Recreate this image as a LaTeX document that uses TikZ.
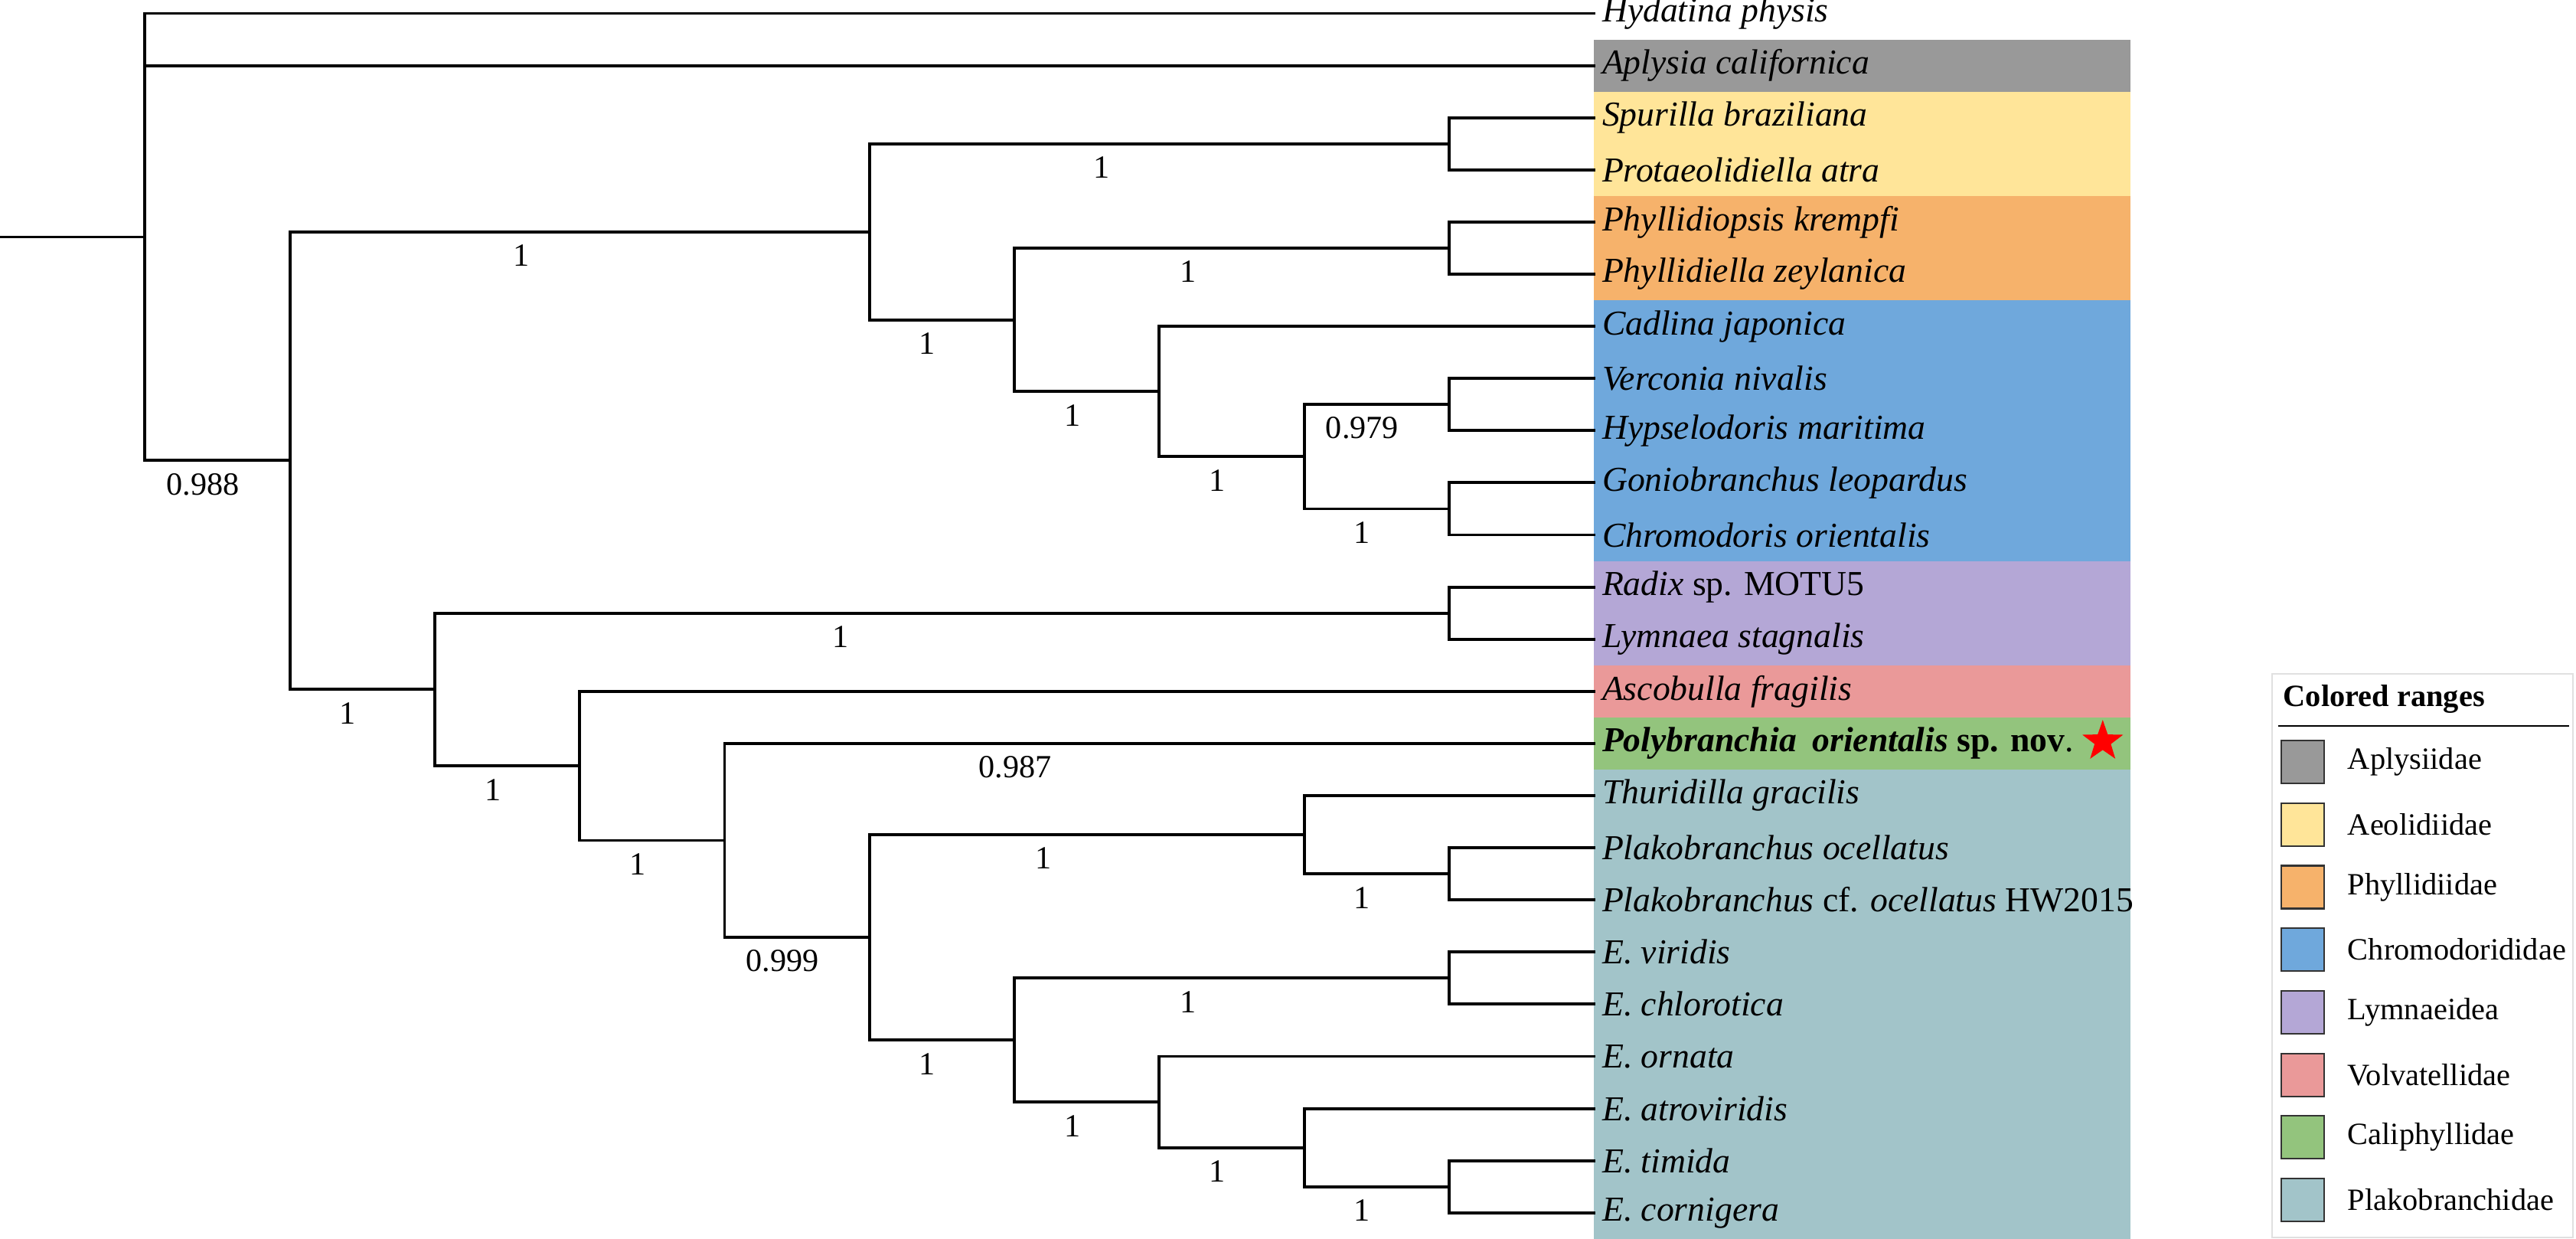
\documentclass[tikz,border=0pt]{standalone}
\usepackage{fontspec}
\setmainfont{Liberation Serif}
\usepackage{tikz}
\usetikzlibrary{shapes.geometric}
\definecolor{aply}{HTML}{999999}
\definecolor{aeol}{HTML}{FFE599}
\definecolor{phyl}{HTML}{F6B26B}
\definecolor{chro}{HTML}{6FA8DC}
\definecolor{lymn}{HTML}{B4A7D6}
\definecolor{volv}{HTML}{EA9999}
\definecolor{cali}{HTML}{93C47D}
\definecolor{plak}{HTML}{A2C4C9}
\tikzset{
  br/.style={line width=1.1pt, line cap=rect, line join=miter, draw=black},
  leaf/.style={anchor=west, inner xsep=0.1cm, inner ysep=0pt, font=\fontsize{13}{15}\selectfont\itshape},
  bs/.style={pos=0.7, anchor=center, yshift=-0.31cm, inner sep=0pt, font=\fontsize{12}{14}\selectfont},
  swatch/.style={draw=black!80, line width=0.6pt, minimum size=0.56cm, inner sep=0pt},
  legtxt/.style={anchor=west, inner sep=0pt, font=\fontsize{11.5}{14}\selectfont}
}
\newcommand{\Band}[3]{% colour, first row, last row
  \fill[#1] (11,#2-0.5) rectangle (14.70,#3+0.5);
}

\begin{document}
\begin{tikzpicture}[x=1.893cm, y=-0.681cm]
  \useasboundingbox (0,-0.257) rectangle (17.776,23.5);
  % coloured ranges behind the tips
  \Band{aply}{1}{1}
  \Band{aeol}{2}{3}
  \Band{phyl}{4}{5}
  \Band{chro}{6}{10}
  \Band{lymn}{11}{12}
  \Band{volv}{13}{13}
  \Band{cali}{14}{14}
  \Band{plak}{15}{23}

  % tips
  \node[leaf] (hyd) at (11,0) {Hydatina physis};
  \node[leaf] (apl) at (11,1) {Aplysia californica};
  \node[leaf] (spu) at (11,2) {Spurilla braziliana};
  \node[leaf] (pro) at (11,3) {Protaeolidiella atra};
  \node[leaf] (phk) at (11,4) {Phyllidiopsis krempfi};
  \node[leaf] (phz) at (11,5) {Phyllidiella zeylanica};
  \node[leaf] (cad) at (11,6) {Cadlina japonica};
  \node[leaf] (ver) at (11,7) {Verconia nivalis};
  \node[leaf] (hyp) at (11,8) {Hypselodoris maritima};
  \node[leaf] (gon) at (11,9) {Goniobranchus leopardus};
  \node[leaf] (chr) at (11,10) {Chromodoris orientalis};
  \node[leaf] (rad) at (11,11) {Radix {\upshape sp. MOTU5}};
  \node[leaf] (lym) at (11,12) {Lymnaea stagnalis};
  \node[leaf] (asc) at (11,13) {Ascobulla fragilis};
  \node[leaf] (pol) at (11,14) {\textbf{Polybranchia}\hspace{0.45em}\textbf{orientalis} {\upshape\bfseries sp. nov}{\upshape .}};
  \node[leaf] (thu) at (11,15) {Thuridilla gracilis};
  \node[leaf] (plo) at (11,16) {Plakobranchus ocellatus};
  \node[leaf] (plc) at (11,17) {Plakobranchus {\upshape cf.} ocellatus {\upshape HW2015}};
  \node[leaf] (evi) at (11,18) {E{\upshape .} viridis};
  \node[leaf] (ech) at (11,19) {E{\upshape .} chlorotica};
  \node[leaf] (eor) at (11,20) {E{\upshape .} ornata};
  \node[leaf] (eat) at (11,21) {E{\upshape .} atroviridis};
  \node[leaf] (eti) at (11,22) {E{\upshape .} timida};
  \node[leaf] (eco) at (11,23) {E{\upshape .} cornigera};
  \node[star, star points=5, star point ratio=2.5, fill=red, inner sep=0pt, minimum size=0.56cm] (nov) at (14.51,13.96) {};

  % internal nodes
  \coordinate (root) at (0,4.287);
  \coordinate (nA) at (1,4.287);
  \coordinate (nB) at (2,8.574);
  \coordinate (nC) at (6,4.1875);
  \coordinate (nE) at (10,2.5);
  \coordinate (nD) at (7,5.875);
  \coordinate (nG) at (10,4.5);
  \coordinate (nF) at (8,7.25);
  \coordinate (nH) at (9,8.5);
  \coordinate (nI) at (10,7.5);
  \coordinate (nJ) at (10,9.5);
  \coordinate (nK) at (3,12.965);
  \coordinate (nM) at (10,11.5);
  \coordinate (nL) at (4,14.43);
  \coordinate (nN) at (5,15.859);
  \coordinate (nO) at (6,17.719);
  \coordinate (nP) at (9,15.75);
  \coordinate (nR) at (10,16.5);
  \coordinate (nQ) at (7,19.6875);
  \coordinate (nS) at (10,18.5);
  \coordinate (nT) at (8,20.875);
  \coordinate (nU) at (9,21.75);
  \coordinate (nV) at (10,22.5);

  % branches
  \draw[br] (root) -- (nA);
  \draw[br] (nA) |- (hyd.west);
  \draw[br] (nA) |- (apl.west);
  \draw[br] (nA) |- (nB) node[bs]{0.988};
  \draw[br] (nB) |- (nC) node[bs]{1};
  \draw[br] (nC) |- (nE) node[bs]{1};
  \draw[br] (nE) |- (spu.west);
  \draw[br] (nE) |- (pro.west);
  \draw[br] (nC) |- (nD) node[bs]{1};
  \draw[br] (nD) |- (nG) node[bs]{1};
  \draw[br] (nG) |- (phk.west);
  \draw[br] (nG) |- (phz.west);
  \draw[br] (nD) |- (nF) node[bs]{1};
  \draw[br] (nF) |- (cad.west);
  \draw[br] (nF) |- (nH) node[bs]{1};
  \draw[br] (nH) |- (nI) node[bs]{0.979};
  \draw[br] (nI) |- (ver.west);
  \draw[br] (nI) |- (hyp.west);
  \draw[br] (nH) |- (nJ) node[bs]{1};
  \draw[br] (nJ) |- (gon.west);
  \draw[br] (nJ) |- (chr.west);
  \draw[br] (nB) |- (nK) node[bs]{1};
  \draw[br] (nK) |- (nM) node[bs]{1};
  \draw[br] (nM) |- (rad.west);
  \draw[br] (nM) |- (lym.west);
  \draw[br] (nK) |- (nL) node[bs]{1};
  \draw[br] (nL) |- (asc.west);
  \draw[br] (nL) |- (nN) node[bs]{1};
  \draw[br] (nN) |- (pol.west) node[bs, pos=0.667]{0.987};
  \draw[br] (nN) |- (nO) node[bs]{0.999};
  \draw[br] (nO) |- (nP) node[bs]{1};
  \draw[br] (nP) |- (thu.west);
  \draw[br] (nP) |- (nR) node[bs]{1};
  \draw[br] (nR) |- (plo.west);
  \draw[br] (nR) |- (plc.west);
  \draw[br] (nO) |- (nQ) node[bs]{1};
  \draw[br] (nQ) |- (nS) node[bs]{1};
  \draw[br] (nS) |- (evi.west);
  \draw[br] (nS) |- (ech.west);
  \draw[br] (nQ) |- (nT) node[bs]{1};
  \draw[br] (nT) |- (eor.west);
  \draw[br] (nT) |- (nU) node[bs]{1};
  \draw[br] (nU) |- (eat.west);
  \draw[br] (nU) |- (nV) node[bs]{1};
  \draw[br] (nV) |- (eti.west);
  \draw[br] (nV) |- (eco.west);

  % legend
  \draw[black!12, line width=0.6pt] (15.68,12.665) rectangle (17.755,23.47);
  \node[legtxt, font=\fontsize{11.5}{14}\selectfont\bfseries] (legtitle) at (15.753,13.15) {Colored ranges};
  \draw[line width=0.6pt] (15.72,13.66) -- (17.73,13.66);
  \foreach \col/\fam [count=\i from 0] in {aply/Aplysiidae, aeol/Aeolidiidae, phyl/Phyllidiidae,
      chro/Chromodorididae, lymn/Lymnaeidea, volv/Volvatellidae, cali/Caliphyllidae, plak/Plakobranchidae} {
    \node[swatch, fill=\col] (sw\i) at (15.89,14.354+1.2*\i) {};
    \node[legtxt] (lg\i) at (16.197,14.354+1.2*\i) {\fam};
  }
\end{tikzpicture}
\end{document}
